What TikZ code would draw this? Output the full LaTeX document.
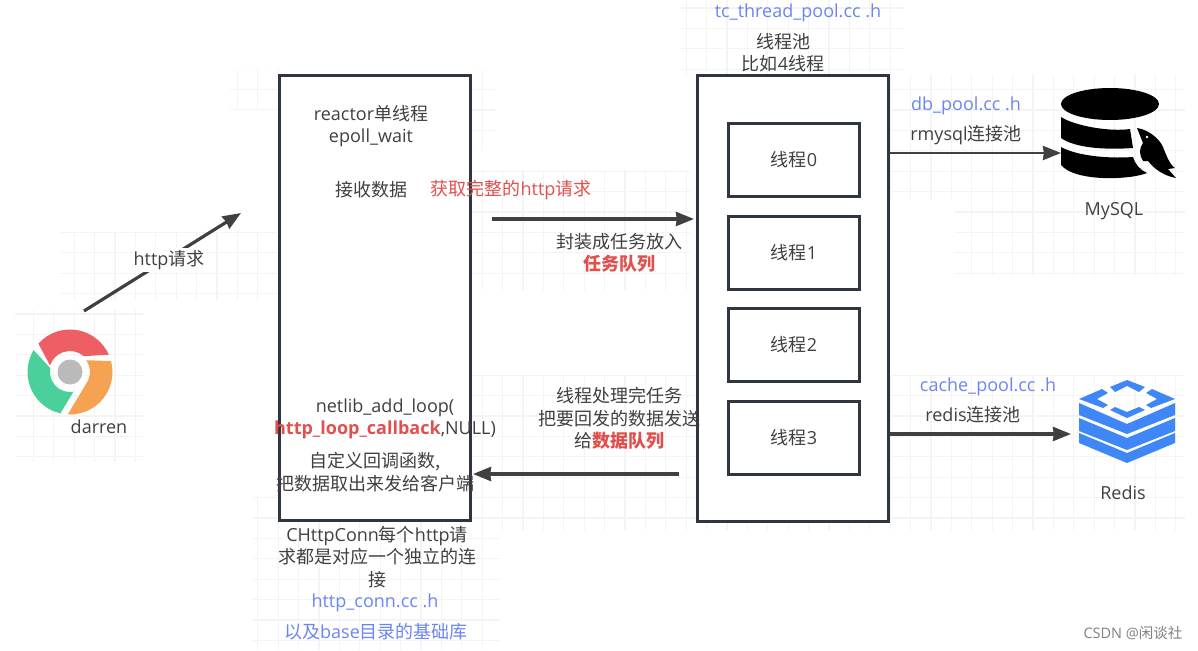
\documentclass[tikz,border=0pt]{standalone}
\usepackage{fontspec}
\setmainfont{Open Sans}
\newfontfamily\cjk{Noto Sans CJK SC}
\newcommand{\zh}[1]{{\cjk #1}}
\usetikzlibrary{arrows.meta}
\definecolor{ink}{HTML}{404040}
\definecolor{boxline}{HTML}{2F3640}
\definecolor{linkblue}{HTML}{6C86F0}
\definecolor{alert}{HTML}{E0504F}
\definecolor{faint}{HTML}{F4F4F4}
\definecolor{redisblue}{HTML}{3F86F7}
\definecolor{wedgered}{HTML}{EE5E65}
\definecolor{wedgegreen}{HTML}{4AD19B}
\definecolor{wedgeorange}{HTML}{F5A353}
\definecolor{hubgrey}{HTML}{BABABA}
\tikzset{
  txt/.style={font=\fontsize{18}{22.3}\selectfont, text=ink, align=center, inner sep=0pt},
  bluetxt/.style={txt, text=linkblue},
  redtxt/.style={txt, text=alert},
  panel/.style={draw=boxline, line width=3pt, fill=white},
  worker/.style={draw=boxline, line width=3pt, fill=white, minimum width=131pt, minimum height=73pt, txt},
  flow/.style={draw=ink, line width=3.2pt, -{Stealth[inset=0.8pt,length=18pt,width=14pt]}},
  thinflow/.style={flow, line width=2.7pt},
}
\begin{document}
\begin{tikzpicture}[x=1pt,y=-1pt]
\useasboundingbox (0,0) rectangle (1198,650);
\fill[white] (0,0) rectangle (1198,650);

% faint squared paper behind the drawing
\begin{scope}
  \clip (15,310) rectangle (143,462)
        (60,232) rectangle (280,300)
        (230,70) rectangle (280,110)
        (253,495) rectangle (280,650)
        (470,70) rectangle (495,150)
        (470,170) rectangle (690,290)
        (280,520) rectangle (500,650)
        (680,0) rectangle (905,75)
        (890,75) rectangle (1185,200)
        (955,200) rectangle (1185,275)
        (470,375) rectangle (1185,530);
  \foreach \k in {0,...,58} \draw[faint, line width=1.2pt] ({13+20.4*\k},0) -- ({13+20.4*\k},650);
  \foreach \k in {0,...,32} \draw[faint, line width=1.2pt] (0,{8+20.4*\k}) -- (1198,{8+20.4*\k});
\end{scope}

% browser logo
\begin{scope}[shift={(70,372)}, x=1pt, y=1pt]
  \fill[wedgered] (138:42.5) arc (138:24:42.5) -- (49:21) arc (49:162:21) -- cycle;
  \fill[wedgegreen] (149:42.5) arc (149:257:42.5) -- (280:20) arc (280:169:20) -- cycle;
  \fill[wedgeorange] (15:42.5) arc (15:-93:42.5) -- (-25:20) arc (-25:36:20) -- cycle;
  \fill[hubgrey] (0,0) circle (12.5);
\end{scope}
\node[txt] (client) at (99,427) {darren};

% reactor panel
\node[panel, minimum width=191pt, minimum height=444.5pt, anchor=north west] (reactor) at (278,74) {};
\node[txt] (reactorname) at (371,126) {reactor\zh{单线程}\\epoll\_wait};
\node[txt] (recv) at (371,190) {\zh{接收数据}};
\node[redtxt] (whole) at (511,190) {\zh{获取完整的}http\zh{请求}};
\node[txt] (addloop) at (385,407.5) {netlib\_add\_loop(};
\node[txt] (cb) at (385,430) {\textcolor{alert}{\textbf{http\_loop\_callback}},NULL)};
\node[txt] (cbnote) at (375,472) {\zh{自定义回调函数,}\\\zh{把数据取出来发给客户端}};
\node[txt] (connnote) at (377,557) {CHttpConn\zh{每个}http\zh{请}\\\zh{求都是对应一个独立的连}\\\zh{接}};
\node[bluetxt] (connfile) at (375,603) {http\_conn.cc .h};
\node[bluetxt] (baselib) at (376,632) {\zh{以及}base\zh{目录的基础库}};

% thread pool panel
\node[panel, minimum width=191pt, minimum height=445.5pt, anchor=north west] (pool) at (696,74) {};
\node[bluetxt] (poolfile) at (798,13) {tc\_thread\_pool.cc .h};
\node[txt] (poolname) at (783,52.5) {\zh{线程池}\\\zh{比如}4\zh{线程}};
\node[worker] (t0) at (794,160) {\zh{线程}0};
\node[worker] (t1) at (794,253) {\zh{线程}1};
\node[worker] (t2) at (794,345) {\zh{线程}2};
\node[worker] (t3) at (794,438) {\zh{线程}3};

% database icon with its seal
\fill[black] (1110,104) ellipse (49 and 16);
\fill[black] (1061,117) .. controls (1075,126) and (1110,132) .. (1130,129) -- (1133,148) .. controls (1105,150) and (1075,148) .. (1061,138) -- cycle;
\fill[black] (1061,147) .. controls (1075,155) and (1105,159) .. (1133,157) .. controls (1135,164) and (1140,170) .. (1147,173) .. controls (1130,180) and (1075,182) .. (1061,165) -- cycle;
\fill[black] (1137,128) .. controls (1150,130) and (1160,140) .. (1163,147) .. controls (1166,155) and (1170,165) .. (1175,168) -- (1168,169) -- (1176,178) .. controls (1165,176) and (1155,170) .. (1148,161) -- (1143,161) .. controls (1139,155) and (1139,148) .. (1143,143) -- cycle;
\fill[white] (1147,137) circle (1.4);
\node[txt] (mysql) at (1114,211) {MySQL};

% cache icon: three stacked bands under a broken diamond
\fill[redisblue] (1079,403) -- (1127,424) -- (1175,403) -- (1175,415) -- (1127,434) -- (1079,415) -- cycle;
\fill[redisblue] (1079,418) -- (1127,438) -- (1175,418) -- (1175,431) -- (1127,450) -- (1079,431) -- cycle;
\fill[redisblue] (1079,433) -- (1127,453) -- (1175,433) -- (1175,443) -- (1127,463) -- (1079,443) -- cycle;
\fill[redisblue] (1110,387) -- (1127,380) -- (1145,387) -- (1139,392) -- (1127,386) -- (1115,392) -- cycle;
\fill[redisblue] (1110,410) -- (1115,407) -- (1127,412) -- (1139,407) -- (1145,410) -- (1127,418) -- cycle;
\fill[redisblue] (1079,399) -- (1102,389) -- (1108,393) -- (1097,399) -- (1108,405) -- (1103,408) -- cycle;
\fill[redisblue] (1175,399) -- (1152,389) -- (1146,393) -- (1157,399) -- (1146,405) -- (1151,408) -- cycle;
\node[txt] (redis) at (1123,493) {Redis};

% connectors
\coordinate (httpstart) at (84,311);
\coordinate (httpend) at (241,213);
\draw[flow] (httpstart) -- (httpend);
\node[txt, fill=white, inner xsep=1pt, inner ysep=2pt] (httplabel) at (169,260) {http\zh{请求}};
\coordinate (taskstart) at (492,219);
\coordinate (taskend) at (694,219);
\draw[flow] (taskstart) -- (taskend);
\node[txt] (tasklabel) at (619,253) {\zh{封装成任务放入}\\\textcolor{alert}{\textbf{\zh{任务队列}}}};
\coordinate (backstart) at (679,474);
\coordinate (backend) at (473,474);
\draw[flow] (backstart) -- (backend);
\node[txt] (backlabel) at (619,418.5) {\zh{线程处理完任务}\\\zh{把要回发的数据发送}\\\zh{给}\textcolor{alert}{\textbf{\zh{数据队列}}}};
\coordinate (dbend) at (1061,153);
\draw[thinflow] (dbend -| pool.east) -- (dbend);
\coordinate (cacheend) at (1071,434);
\draw[flow] (cacheend -| pool.east) -- (cacheend);

\node[bluetxt] (dbfile) at (966,106) {db\_pool.cc .h};
\node[txt] (dbnote) at (966,135) {rmysql\zh{连接池}};
\node[bluetxt] (cachefile) at (988,387) {cache\_pool.cc .h};
\node[txt] (cachenote) at (973,415) {redis\zh{连接池}};

\node[font=\fontsize{14.5}{16}\selectfont, text=black!50, inner sep=0pt] (mark) at (1133,633) {CSDN @\zh{闲谈社}};
\end{tikzpicture}
\end{document}
